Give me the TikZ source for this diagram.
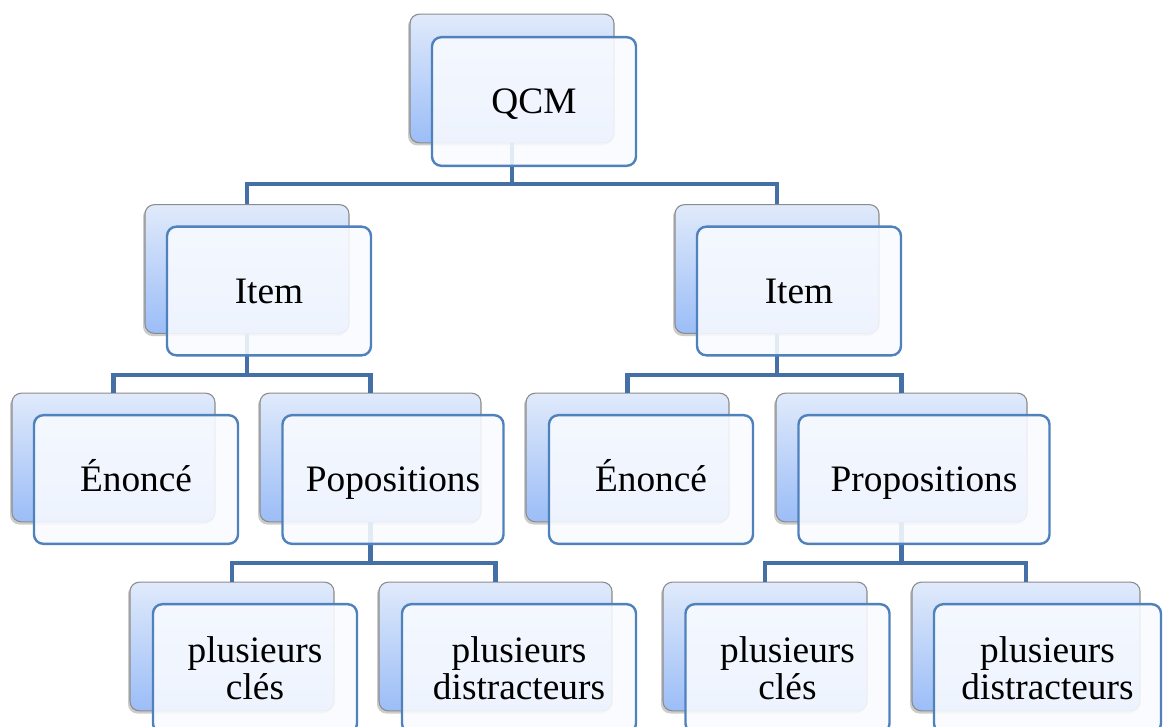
\documentclass[tikz,border=0pt]{standalone}
\usepackage{fontspec}
\setmainfont{Liberation Serif}
\usetikzlibrary{shadows}
\definecolor{conn}{HTML}{4470A6}
\definecolor{fborder}{HTML}{4F81BD}
\definecolor{btop}{HTML}{E0EAFB}
\definecolor{bbot}{HTML}{9BBDF7}
\definecolor{bborder}{HTML}{8C8C8C}
\definecolor{ffill}{HTML}{F9FBFF}
\begin{document}
\begin{tikzpicture}[x=0.75pt,y=-0.75pt,
  backbox/.style={draw=bborder, line width=0.8pt, rounded corners=7pt,
    top color=btop, bottom color=bbot, minimum height=96.5pt,
    drop shadow={shadow xshift=-1.5pt, shadow yshift=-2pt, opacity=0.4}},
  frontbox/.style={draw=fborder, line width=1.8pt, rounded corners=7pt,
    fill=ffill, fill opacity=0.88, text opacity=1, minimum height=96.5pt,
    align=center, font=\fontsize{28}{27.75}\selectfont, inner sep=0pt},
  oneline/.style={text height=18.5pt, text depth=0pt},
  connector/.style={draw=conn, line width=3.6pt}]
\clip (0,0) rectangle (1163,727);
\fill[white] (0,0) rectangle (1163,727);
% back boxes
\node[backbox, minimum width=153pt] (qcmB) at (512,78.5) {};
\node[backbox, minimum width=153pt] (itemLB) at (247,269) {};
\node[backbox, minimum width=153pt] (itemRB) at (777,269) {};
\node[backbox, minimum width=152.25pt] (enLB) at (113.5,457.5) {};
\node[backbox, minimum width=165.75pt] (propLB) at (370.5,457.5) {};
\node[backbox, minimum width=152.25pt] (enRB) at (627.5,457.5) {};
\node[backbox, minimum width=188.25pt] (propRB) at (901.5,457.5) {};
\node[backbox, minimum width=153pt] (clesLB) at (232,646.5) {};
\node[backbox, minimum width=174.75pt] (distLB) at (495.5,646.5) {};
\node[backbox, minimum width=153pt] (clesRB) at (765,646.5) {};
\node[backbox, minimum width=171pt] (distRB) at (1026,646.5) {};
% connectors
\coordinate (j1) at (512,184);
\coordinate (j2) at (247,375);
\coordinate (j3) at (777,375);
\coordinate (j4) at (370.5,563);
\coordinate (j5) at (901.5,563);
\draw[connector] (qcmB.south) -- (j1);
\draw[connector] (itemLB.north) |- (j1) -| (itemRB.north);
\draw[connector] (itemLB.south) -- (j2);
\draw[connector] (enLB.north) |- (j2) -| (propLB.north);
\draw[connector] (itemRB.south) -- (j3);
\draw[connector] (enRB.north) |- (j3) -| (propRB.north);
\draw[connector] (propLB.south) -- (j4);
\draw[connector] (clesLB.north) |- (j4) -| (distLB.north);
\draw[connector] (propRB.south) -- (j5);
\draw[connector] (clesRB.north) |- (j5) -| (distRB.north);
% front boxes
\node[frontbox, oneline, minimum width=153pt] (qcm) at (534,101.5) {QCM};
\node[frontbox, oneline, minimum width=153pt] (itemL) at (269,291) {Item};
\node[frontbox, oneline, minimum width=153pt] (itemR) at (799,291) {Item};
\node[frontbox, oneline, minimum width=153pt] (enL) at (136,479.5) {Énoncé};
\node[frontbox, oneline, minimum width=165.75pt] (propL) at (393,479.5) {Popositions};
\node[frontbox, oneline, minimum width=153pt] (enR) at (651,479.5) {Énoncé};
\node[frontbox, oneline, minimum width=188.25pt] (propR) at (924,479.5) {Propositions};
\node[frontbox, minimum width=153pt] (clesL) at (255,668.5) {plusieurs\\clés};
\node[frontbox, minimum width=175.5pt] (distL) at (519,668.5) {plusieurs\\distracteurs};
\node[frontbox, minimum width=153pt] (clesR) at (787.5,668.5) {plusieurs\\clés};
\node[frontbox, minimum width=170.25pt] (distR) at (1047.5,668.5) {plusieurs\\distracteurs};
\end{tikzpicture}
\end{document}
